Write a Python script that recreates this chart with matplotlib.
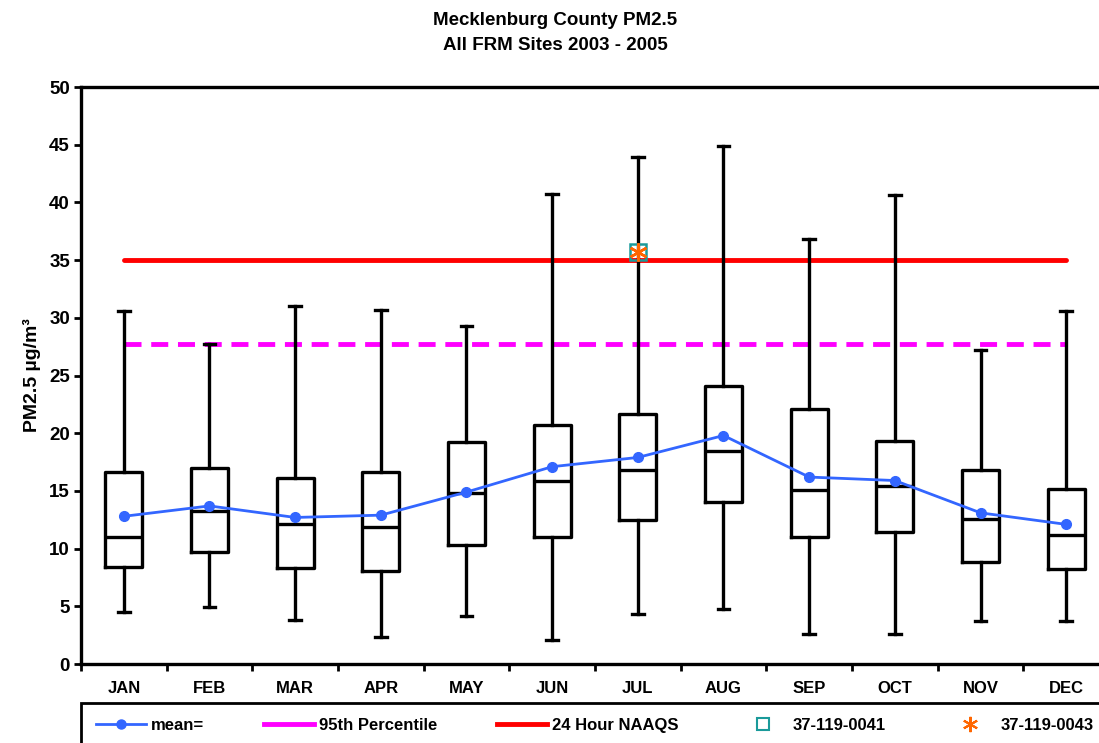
import matplotlib
matplotlib.use('Agg')
import matplotlib.pyplot as plt
from matplotlib.lines import Line2D
import numpy as np

plt.rcParams['font.family'] = ['Liberation Sans', 'DejaVu Sans']
plt.rcParams['font.weight'] = 'bold'

# monthly box statistics (ug/m3)
months = ['JAN', 'FEB', 'MAR', 'APR', 'MAY', 'JUN', 'JUL', 'AUG', 'SEP', 'OCT', 'NOV', 'DEC']
whisker_low = [4.5, 4.9, 3.8, 2.3, 4.2, 2.1, 4.3, 4.8, 2.6, 2.6, 3.7, 3.7]
q1 = [8.4, 9.7, 8.3, 8.1, 10.3, 11.0, 12.5, 14.0, 11.0, 11.4, 8.8, 8.2]
median = [11.0, 13.3, 12.1, 11.9, 14.8, 15.9, 16.8, 18.5, 15.1, 15.4, 12.6, 11.2]
q3 = [16.6, 17.0, 16.1, 16.6, 19.2, 20.7, 21.7, 24.1, 22.1, 19.3, 16.8, 15.2]
whisker_high = [30.6, 27.7, 31.0, 30.7, 29.3, 40.7, 43.9, 44.9, 36.8, 40.6, 27.2, 30.6]
mean = [12.8, 13.7, 12.7, 12.9, 14.9, 17.1, 17.9, 19.8, 16.2, 15.9, 13.1, 12.1]

pct95 = 27.7
naaqs = 35.0
site_month = 'JUL'
site_0041 = 35.7
site_0043 = 35.7

pos = np.arange(1, len(months) + 1)

fig = plt.figure(figsize=(10.99, 7.43), dpi=100)
ax = fig.add_axes([0.0737, 0.1063, 0.9354, 0.7766])

stats = []
for i in range(len(months)):
    stats.append({'whislo': whisker_low[i], 'q1': q1[i], 'med': median[i],
                  'q3': q3[i], 'whishi': whisker_high[i], 'fliers': []})

lw = 2.4
ax.bxp(stats, positions=pos, widths=0.43, capwidths=0.14, showfliers=False,
       boxprops=dict(color='black', linewidth=lw),
       whiskerprops=dict(color='black', linewidth=lw),
       capprops=dict(color='black', linewidth=lw),
       medianprops=dict(color='black', linewidth=lw),
       manage_ticks=False, zorder=3)

ax.plot([pos[0], pos[-1]], [pct95, pct95], color='#FF00FF', lw=3.5,
        dashes=(3.5, 2), zorder=2)
ax.plot([pos[0], pos[-1]], [naaqs, naaqs], color='#FF0000', lw=3.5,
        solid_capstyle='round', zorder=2)
ax.plot(pos, mean, color='#3366FF', lw=2, marker='o', markersize=7, zorder=4)

xs = pos[months.index(site_month)]
ax.plot([xs], [site_0041], linestyle='none', marker='s', markersize=11,
        markerfacecolor='none', markeredgecolor='#1A9A9A', markeredgewidth=1.8, zorder=5)
ax.plot([xs], [site_0043], linestyle='none', marker=(6, 2, 0), markersize=13,
        markeredgecolor='#FF6600', markeredgewidth=1.8, zorder=6)

ax.set_xlim(0.5, 12.5)
ax.set_ylim(0, 50)
ax.set_yticks(np.arange(0, 51, 5))
ax.set_xticks(pos)
ax.set_xticklabels(months, fontsize=12, fontweight='bold')
ax.set_xticks(np.arange(0.5, 12.6, 1), minor=True)
ax.tick_params(axis='x', which='major', length=0, pad=12)
ax.tick_params(axis='x', which='minor', direction='out', length=5, width=2)
ax.tick_params(axis='y', direction='out', length=5, width=2, labelsize=13.5, pad=3)
for lab in ax.get_yticklabels():
    lab.set_fontweight('bold')
for sp in ax.spines.values():
    sp.set_linewidth(2.4)

ax.set_ylabel('PM2.5 µg/m³', fontsize=14, fontweight='bold', labelpad=6)

fig.text(0.505, 0.973, 'Mecklenburg County PM2.5', ha='center', va='center',
         fontsize=13.5, fontweight='bold')
fig.text(0.505, 0.939, 'All FRM Sites 2003 - 2005', ha='center', va='center',
         fontsize=13.5, fontweight='bold')

handles = [
    Line2D([], [], color='#3366FF', lw=2, marker='o', markersize=6.5),
    Line2D([], [], color='#FF00FF', lw=3.5),
    Line2D([], [], color='#FF0000', lw=3.5),
    Line2D([], [], linestyle='none', marker='s', markersize=9, markerfacecolor='none',
           markeredgecolor='#1A9A9A', markeredgewidth=1.5),
    Line2D([], [], linestyle='none', marker=(6, 2, 0), markersize=11,
           markeredgecolor='#FF6600', markeredgewidth=1.5),
]
labels = ['mean=', '95th Percentile', '24 Hour NAAQS', '37-119-0041', '37-119-0043']
leg = fig.legend(handles, labels, loc='upper left', ncol=5, mode='expand',
                 bbox_to_anchor=(0.0737, 0.0, 0.935, 0.0545),
                 prop={'size': 12, 'weight': 'bold'}, handlelength=3.0,
                 handletextpad=0.3, fancybox=False, borderaxespad=0,
                 borderpad=0.9, framealpha=1)
leg.get_frame().set_edgecolor('black')
leg.get_frame().set_linewidth(2)

fig.savefig('out.png', dpi=100)
